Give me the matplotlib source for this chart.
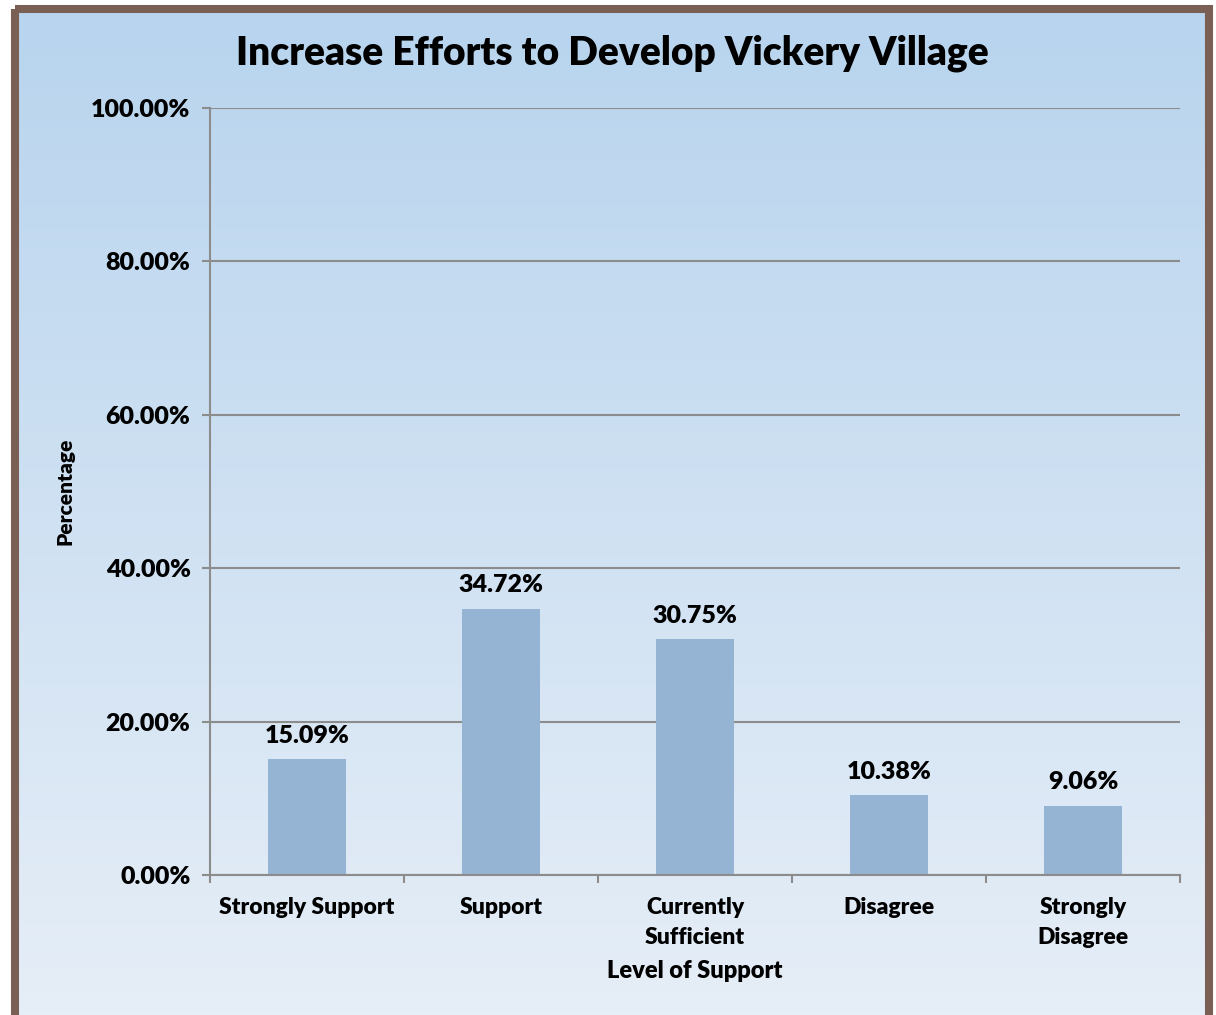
import numpy as np
import matplotlib
matplotlib.use("Agg")
import matplotlib.pyplot as plt
from matplotlib.patches import Rectangle

plt.rcParams["font.family"] = ["Lato", "DejaVu Sans"]
plt.rcParams["font.weight"] = "heavy"

# data
categories = ["Strongly Support", "Support", "Currently\nSufficient", "Disagree", "Strongly\nDisagree"]
values = [15.09, 34.72, 30.75, 10.38, 9.06]
y_ticks = [0, 20, 40, 60, 80, 100]

W, H = 1216, 1015
fig = plt.figure(figsize=(W / 100, H / 100), dpi=100)

# background gradient + brown frame
bg = fig.add_axes([0, 0, 1, 1])
bg.set_xlim(0, W)
bg.set_ylim(H, 0)
bg.axis("off")
grad = np.linspace(0, 1, 256).reshape(-1, 1)
top = np.array([0xb8, 0xd4, 0xee]) / 255
bot = np.array([0xe6, 0xee, 0xf7]) / 255
img = top + (bot - top) * grad[:, :, None]
bg.imshow(img, extent=(15, 1209, 1015, 9), aspect="auto", zorder=0)
bg.add_patch(Rectangle((15, 9), 1194, 1030, fill=False, edgecolor="#7a5f55", lw=5.8, zorder=1))

# main axes
x0, x1, y0, y1 = 210, 1180, 875, 108
ax = fig.add_axes([x0 / W, (H - y0) / H, (x1 - x0) / W, (y0 - y1) / H])
ax.patch.set_alpha(0)

x = np.arange(len(categories))
ax.bar(x, values, width=0.4, color="#95b3d3", zorder=2)
for xi, v in zip(x, values):
    ax.text(xi, v + 1.6, f"{v:.2f}%", ha="center", va="bottom", fontsize=18, fontweight="heavy")

ax.set_xlim(-0.5, len(categories) - 0.5)
ax.set_ylim(0, 100)
ax.set_yticks(y_ticks)
ax.set_yticklabels([f"{t:.2f}%" for t in y_ticks], fontsize=18, fontweight="heavy")
ax.set_xticks(x)
ax.set_xticklabels(categories, fontsize=16.5, fontweight="heavy", linespacing=1.5)
ax.set_xticks(np.arange(-0.5, len(categories)), minor=True)
ax.tick_params(axis="x", which="major", length=0, pad=16)
ax.tick_params(axis="x", which="minor", length=6, color="#8c8c8c", width=1.5, direction="out")
ax.tick_params(axis="y", length=6, color="#8c8c8c", width=1.5, pad=8)
ax.grid(axis="y", color="#8c8c8c", lw=1.5, zorder=1)
for s in ["top", "right"]:
    ax.spines[s].set_visible(False)
for s in ["left", "bottom"]:
    ax.spines[s].set_color("#8c8c8c")
    ax.spines[s].set_linewidth(1.5)
ax.spines["bottom"].set_zorder(3)

ax.set_xlabel("Level of Support", fontsize=17, fontweight="heavy", labelpad=9)
ax.set_ylabel("Percentage", fontsize=15, fontweight="heavy", labelpad=12)

fig.text(612 / W, 1 - 53 / H, "Increase Efforts to Develop Vickery Village",
         ha="center", va="center", fontsize=28, fontweight="heavy")

fig.savefig("out.png", dpi=100)
